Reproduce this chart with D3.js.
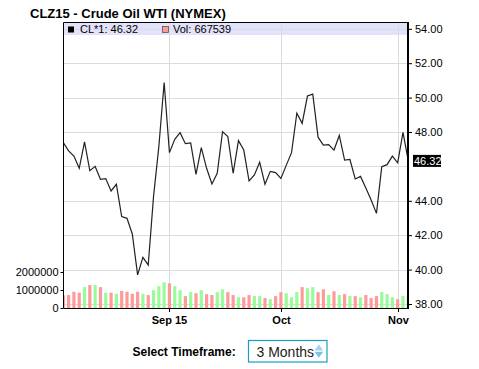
<!DOCTYPE html>
<html>
<head>
<meta charset="utf-8">
<script src="https://cdn.jsdelivr.net/npm/d3@7"></script>
<style>
  html, body { margin: 0; padding: 0; background: #fff; }
  svg { display: block; font-family: "Liberation Sans", Arial, sans-serif; }
</style>
</head>
<body>
<svg id="chart" width="479" height="369"></svg>
<script>
// CLZ15 daily closes, trading days from Aug 4 to Nov 4 2015
const closes = [
  47.38, 46.90, 46.60, 45.89, 47.42, 45.75, 46.00, 45.25, 45.29, 44.57,
  44.96, 43.08, 42.98, 42.07, 39.69, 40.71, 40.27, 44.24, 47.15, 50.87,
  46.80, 47.57, 47.96, 47.32, 47.36, 45.54, 47.09, 45.89, 44.98, 45.60,
  48.02, 47.73, 45.60, 47.50, 46.95, 45.15, 45.50, 46.24, 44.96, 45.71,
  45.64, 45.30, 46.06, 46.80, 49.09, 48.50, 50.09, 50.20, 47.70, 47.24,
  47.27, 46.95, 47.80, 46.37, 46.40, 45.27, 45.42, 44.75, 44.05, 43.27,
  45.98, 46.10, 46.60, 46.21, 47.98, 46.32
];
const volumes = [
  700000, 720000, 900000, 850000, 1160000, 1270000, 1270000, 1160000, 850000, 850000,
  790000, 950000, 900000, 790000, 900000, 790000, 720000, 990000, 1210000, 1430000,
  1370000, 1210000, 990000, 660000, 880000, 820000, 990000, 770000, 720000, 880000,
  1040000, 880000, 720000, 600000, 600000, 720000, 660000, 660000, 550000, 490000,
  660000, 880000, 820000, 600000, 880000, 1160000, 1100000, 1160000, 880000, 1040000,
  720000, 930000, 720000, 770000, 660000, 660000, 600000, 720000, 550000, 660000,
  880000, 770000, 600000, 490000, 660000, 667539
];
// 1 = up day (green bar), 0 = down day (red bar)
const volUp = [
  0, 0, 0, 0, 1, 0, 1, 0, 1, 0,
  1, 0, 0, 0, 0, 1, 0, 1, 1, 1,
  0, 1, 1, 0, 1, 0, 1, 0, 0, 1,
  1, 0, 0, 1, 0, 0, 1, 1, 0, 1,
  0, 0, 1, 1, 1, 0, 1, 1, 0, 0,
  1, 0, 1, 0, 1, 0, 1, 0, 0, 0,
  1, 1, 1, 0, 1, 1
];
const monthTicks = [20, 41, 63];            // index of Sep 1, Oct 1, Nov 2
const monthLabels = ["Sep 15", "Oct", "Nov"];
const priceTicks = [38, 40, 42, 44, 46, 48, 50, 52, 54];
const volTicks = [0, 1000000, 2000000];
const lastClose = 46.32;
const lastVol = 667539;

const svg = d3.select("#chart");
const pL = 63.5, pR = 408, pT = 22.5, pB = 308;

const x = d3.scaleLinear().domain([0, closes.length - 1]).range([63.3, 408.3]);
const yPrice = d3.scaleLinear().domain([38, 54]).range([304, 28.8]);
const yVol = d3.scaleLinear().domain([0, 2000000]).range([pB, 272]);

svg.append("text")
  .attr("x", 30).attr("y", 18)
  .attr("font-size", 13).attr("font-weight", "bold")
  .text("CLZ15 - Crude Oil WTI (NYMEX)");

svg.append("defs").append("clipPath").attr("id", "plot")
  .append("rect")
  .attr("x", pL).attr("y", pT).attr("width", pR - 1 - pL).attr("height", pB - pT);

// legend band
svg.append("rect")
  .attr("x", pL + 0.5).attr("y", pT + 0.5)
  .attr("width", 406.7 - pL).attr("height", 12)
  .attr("fill", "#e2e2fd");

// grid
const grid = svg.append("g").attr("stroke", "#dcdcdc").attr("stroke-width", 1);
grid.selectAll("line.h").data(priceTicks).join("line")
  .attr("class", "h")
  .attr("x1", pL).attr("x2", pR)
  .attr("y1", (d) => Math.round(yPrice(d)) + 0.5)
  .attr("y2", (d) => Math.round(yPrice(d)) + 0.5);
grid.selectAll("line.v").data(monthTicks).join("line")
  .attr("class", "v")
  .attr("x1", (d) => Math.round(x(d)) + 0.5)
  .attr("x2", (d) => Math.round(x(d)) + 0.5)
  .attr("y1", pT).attr("y2", pB);

// volume bars
svg.append("g").attr("clip-path", "url(#plot)")
  .selectAll("rect").data(volumes).join("rect")
  .attr("x", (d, i) => x(i) - 1.6)
  .attr("width", 3.2)
  .attr("y", (d) => yVol(d))
  .attr("height", (d) => pB - yVol(d))
  .attr("fill", (d, i) => (volUp[i] ? "#99fb99" : "#ff9a9a"));

// price line
svg.append("path")
  .datum(closes)
  .attr("clip-path", "url(#plot)")
  .attr("fill", "none")
  .attr("stroke", "#222")
  .attr("stroke-width", 1.2)
  .attr("d", d3.line().x((d, i) => x(i)).y((d) => yPrice(d)));

// frame
svg.append("path")
  .attr("fill", "none").attr("stroke", "#000").attr("stroke-width", 1)
  .attr("d", `M${pL},${pB}V${pT}H${pR}`);
svg.append("line")
  .attr("x1", pL).attr("x2", pR).attr("y1", pB + 0.5).attr("y2", pB + 0.5)
  .attr("stroke", "#000");
svg.append("line")
  .attr("x1", pR).attr("x2", pR).attr("y1", pT - 0.5).attr("y2", pB + 1)
  .attr("stroke", "#000").attr("stroke-width", 2);

// legend
const legend = svg.append("g").attr("font-size", 11).attr("fill", "#000");
legend.append("rect").attr("x", 68).attr("y", 26.5).attr("width", 6).attr("height", 6).attr("fill", "#000");
legend.append("text").attr("x", 80).attr("y", 33).text(`CL*1: ${lastClose.toFixed(2)}`);
legend.append("rect").attr("x", 162.5).attr("y", 26.5).attr("width", 6).attr("height", 6)
  .attr("fill", "#ff9a9a").attr("stroke", "#555").attr("stroke-width", 0.8);
legend.append("text").attr("x", 173).attr("y", 33).text(`Vol: ${lastVol}`);

// right price axis (the label next to the last close is covered by its marker)
const lastY = yPrice(lastClose);
const priceAxis = svg.append("g")
  .attr("transform", `translate(${pR + 1},0)`)
  .call(d3.axisRight(yPrice)
    .tickValues(priceTicks.filter((d) => Math.abs(yPrice(d) - lastY) > 10))
    .tickSize(3).tickPadding(3).tickFormat(d3.format(".2f")));
priceAxis.select(".domain").remove();
priceAxis.selectAll("text").attr("font-size", 11).attr("font-family", null).attr("fill", "#000");

// current value marker
svg.append("rect").attr("x", 413).attr("y", lastY - 6).attr("width", 28).attr("height", 12).attr("fill", "#000");
svg.append("text").attr("x", 414).attr("y", lastY).attr("dy", "0.35em")
  .attr("font-size", 11).attr("fill", "#fff").text(lastClose.toFixed(2));

// left volume axis
const volAxis = svg.append("g")
  .attr("transform", `translate(${pL},0)`)
  .call(d3.axisLeft(yVol).tickValues(volTicks).tickSize(3).tickPadding(2).tickFormat(d3.format("d")));
volAxis.select(".domain").remove();
volAxis.selectAll("text").attr("font-size", 11).attr("font-family", null).attr("fill", "#000");

// bottom month axis
const monthAxis = svg.append("g")
  .attr("transform", `translate(0,${pB})`)
  .call(d3.axisBottom(x).tickValues(monthTicks).tickSize(4).tickPadding(4)
    .tickFormat((d, i) => monthLabels[i]));
monthAxis.select(".domain").remove();
monthAxis.selectAll(".tick").attr("transform", (d) => `translate(${Math.round(x(d)) + 0.5},0)`);
monthAxis.selectAll("text").attr("font-size", 11).attr("font-weight", "bold")
  .attr("font-family", null).attr("fill", "#000");

// timeframe selector
svg.append("text").attr("x", 132.5).attr("y", 356)
  .attr("font-size", 12).attr("font-weight", "bold").text("Select Timeframe:");
svg.append("rect").attr("x", 248.5).attr("y", 340.5).attr("width", 78.5).attr("height", 21.5)
  .attr("fill", "#fff").attr("stroke", "#1b9dc6").attr("stroke-width", 1.2);
svg.append("text").attr("x", 256.5).attr("y", 356.5)
  .attr("font-size", 14).attr("fill", "#222").text("3 Months");
svg.append("path").attr("d", "M314.5,350.5L318.8,344.5L323.2,350.5Z").attr("fill", "#9fd3ee");
svg.append("path").attr("d", "M314.5,351.8L318.8,357.8L323.2,351.8Z").attr("fill", "#7cc2e6");
</script>
</body>
</html>
